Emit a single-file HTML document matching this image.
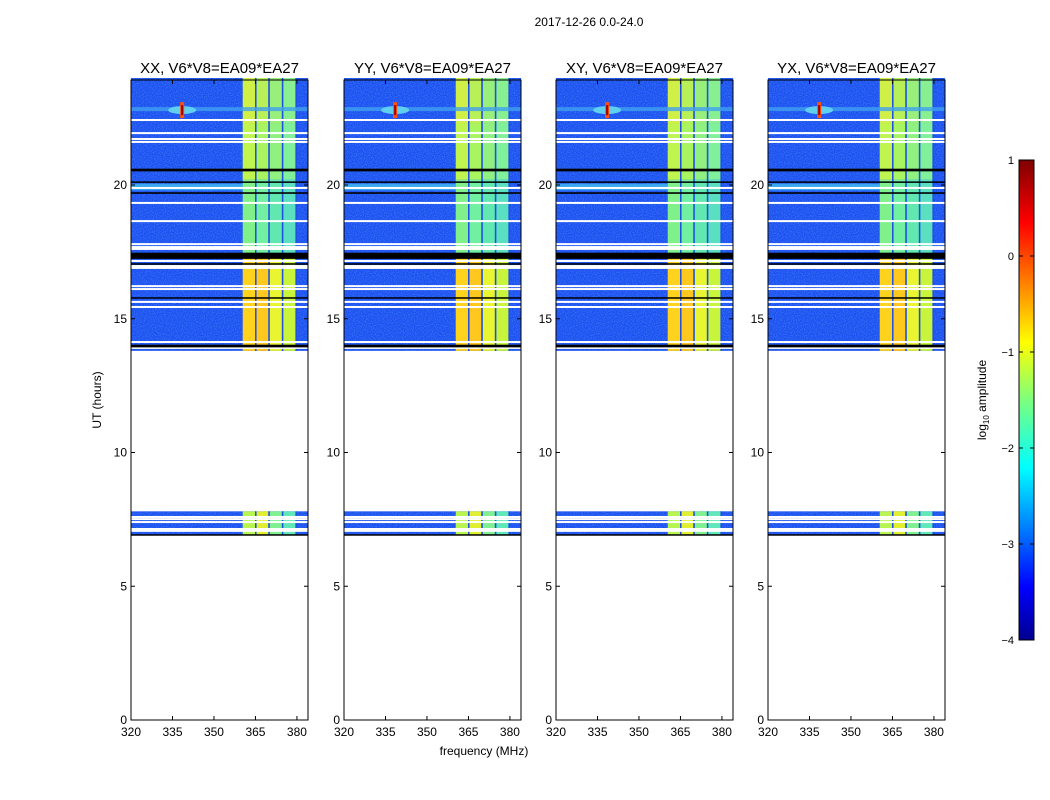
<!DOCTYPE html>
<html><head><meta charset="utf-8"><style>
body{margin:0;background:#fff;}
svg{display:block;font-family:"Liberation Sans",sans-serif;}
</style></head><body>
<svg id="c" width="1050" height="800" viewBox="0 0 1050 800">
<defs>
<linearGradient id="jet" x1="0" y1="1" x2="0" y2="0">
<stop offset="0" stop-color="#00008f"/><stop offset="0.11" stop-color="#0000ff"/>
<stop offset="0.36" stop-color="#00ffff"/><stop offset="0.5" stop-color="#7dff7d"/>
<stop offset="0.62" stop-color="#ffff00"/><stop offset="0.87" stop-color="#ff0000"/>
<stop offset="1" stop-color="#7f0000"/></linearGradient>
<filter id="noise" x="0" y="0" width="100%" height="100%">
<feTurbulence type="fractalNoise" baseFrequency="0.9" numOctaves="1" seed="3"/>
<feColorMatrix values="0 0 0 0 0.1  0 0 0 0 0.5  0 0 0 0 1  0 0 0 1.4 -0.55"/>
<feComposite in2="SourceGraphic" operator="in"/></filter>
</defs>
<text x="589" y="26" font-size="12" text-anchor="middle">2017-12-26 0.0-24.0</text>
<g id="panels"></g>
<text x="484" y="755" font-size="12" text-anchor="middle">frequency (MHz)</text>
<text transform="translate(101,400) rotate(-90)" font-size="12" text-anchor="middle">UT (hours)</text>
<g>
<rect x="1019" y="160" width="15" height="480" fill="url(#jet)" stroke="#000" stroke-width="1"/>
<g id="cbticks"></g>
<text transform="translate(986,400) rotate(-90)" font-size="12" text-anchor="middle">log<tspan font-size="8" dy="3">10</tspan><tspan dy="-3"> amplitude</tspan></text>
</g>
</svg>
<script>
const panelTitles=["XX, V6*V8=EA09*EA27","YY, V6*V8=EA09*EA27","XY, V6*V8=EA09*EA27","YX, V6*V8=EA09*EA27"];
const panelLefts=[131,344,556,768];
const xTicks=[320,335,350,365,380];
const yTicks=[0,5,10,15,20];
const dataSegments=[[6.9,7.8],[13.8,24]];
const bandEdges=[360.4,365.4,370.2,375.1,380];
const bandSections=[[13.8,17.4,["#ffd21e","#ffc81e","#e8f530","#c8f53c"]],[17.4,20.2,["#80f08a","#70f0a0","#60e8b0","#5ae0c0"]],[20.2,22.3,["#c0f550","#a8f560","#90f080","#80f09a"]],[22.3,24,["#d0f048","#b8f058","#98f07a","#88f090"]],[6.9,7.8,["#b8f550","#e0f030","#80f090","#60e8b8"]]];
const whiteLines=[22.43,21.94,21.72,21.61,19.89,19.33,18.65,17.79,17.68,17.61,17.16,16.97,16.90,16.22,16.11,15.63,15.44,14.13,13.91,7.59,7.51,7.40,7.14,7.07];
const blackLines=[[20.56,0.1],[20.11,0.05],[19.70,0.06],[17.38,0.18],[17.27,0.05],[17.05,0.05],[15.78,0.05],[13.98,0.1],[6.92,0.05]];
const cyanBand=[19.8,20.05];
const rfiFreq=338.5, rfiHour=22.8;
const cbTicks=[1,0,-1,-2,-3,-4];

const NS="http://www.w3.org/2000/svg";
const W=177, plotTop=80, plotBot=720;
const yS=h=>plotBot-(h/24)*(plotBot-plotTop+2);
function mk(p,t,a){const e=document.createElementNS(NS,t);for(const k in a)e.setAttribute(k,a[k]);p.appendChild(e);return e;}
const root=document.getElementById('panels');
panelLefts.forEach((L,pi)=>{
 const xS=f=>L+(f-320)/64*W;
 const g=mk(root,'g',{});
 
 
 dataSegments.forEach(s=>{
  const r=mk(g,'rect',{x:L,y:yS(s[1]),width:W,height:yS(s[0])-yS(s[1]),fill:'#1e4ef0'});
  
  
  mk(g,'rect',{x:L,y:yS(s[1]),width:W,height:yS(s[0])-yS(s[1]),fill:'#1e4ef0',filter:'url(#noise)',opacity:0.7});
 });
 const cb=mk(g,'rect',{x:L,y:yS(cyanBand[1]),width:xS(bandEdges[0])-L,height:yS(cyanBand[0])-yS(cyanBand[1]),fill:'#3aa8f0'});
 
 
 bandSections.forEach(sec=>{
  for(let i=0;i<4;i++){
   const r=mk(g,'rect',{x:xS(bandEdges[i]),y:yS(sec[1]),width:xS(bandEdges[i+1])-xS(bandEdges[i])-1.5,height:yS(sec[0])-yS(sec[1]),fill:sec[2][i]});
   
   
   mk(g,'rect',{x:xS(bandEdges[i+1])-1.5,y:yS(sec[1]),width:1.5,height:yS(sec[0])-yS(sec[1]),fill:'#2050e0'});
  }
 });
 const rx=xS(rfiFreq), ry=yS(rfiHour);
 mk(g,'rect',{x:L,y:ry-3,width:W,height:4,fill:'#40a0f0',opacity:0.8});
 mk(g,'ellipse',{cx:rx,cy:ry,rx:14,ry:4,fill:'#60d0f0'});
 const sp=mk(g,'rect',{x:rx-2,y:ry-8,width:4,height:16,fill:'#ff5010'});
 
 
 mk(g,'rect',{x:rx-1,y:ry-5,width:2,height:10,fill:'#a00000'});
 whiteLines.forEach(h=>{const r=mk(g,'rect',{x:L,y:yS(h)-1,width:W,height:2,fill:'#fff'});
  
  });
 blackLines.forEach(b=>{const r=mk(g,'rect',{x:L,y:yS(b[0]+b[1]/2),width:W,height:Math.max(1.5,yS(b[0])-yS(b[0]+b[1])),fill:'#000'});
  
  });
 mk(g,'rect',{x:L,y:plotTop,width:W,height:plotBot-plotTop,fill:'none',stroke:'#000','stroke-width':1});
 const t=mk(g,'text',{x:L+W/2,y:73,'font-size':15,'text-anchor':'middle'});t.textContent=panelTitles[pi];
 
 
 xTicks.forEach(v=>{const x=xS(v);mk(g,'line',{x1:x,x2:x,y1:plotBot,y2:plotBot-4,stroke:'#000'});mk(g,'line',{x1:x,x2:x,y1:plotTop,y2:plotTop+4,stroke:'#000'});
  const tx=mk(g,'text',{x:x,y:plotBot+16,'font-size':12,'text-anchor':'middle'});tx.textContent=v;
  
  });
 yTicks.forEach(v=>{const y=yS(v);mk(g,'line',{x1:L,x2:L+4,y1:y,y2:y,stroke:'#000'});mk(g,'line',{x1:L+W,x2:L+W-4,y1:y,y2:y,stroke:'#000'});
  const ty=mk(g,'text',{x:L-4,y:y+4,'font-size':12,'text-anchor':'end'});ty.textContent=v;
  
  });
});
const cbg=document.getElementById('cbticks');
cbTicks.forEach(v=>{const y=160+(1-v)/5*480;
 mk(cbg,'line',{x1:1019,x2:1023,y1:y,y2:y,stroke:'#000'});mk(cbg,'line',{x1:1030,x2:1034,y1:y,y2:y,stroke:'#000'});
 const t=mk(cbg,'text',{x:1014,y:y+4,'font-size':11,'text-anchor':'end'});t.textContent=(v<0?'\u2212':'')+Math.abs(v);
 
 });
</script>
</body></html>
